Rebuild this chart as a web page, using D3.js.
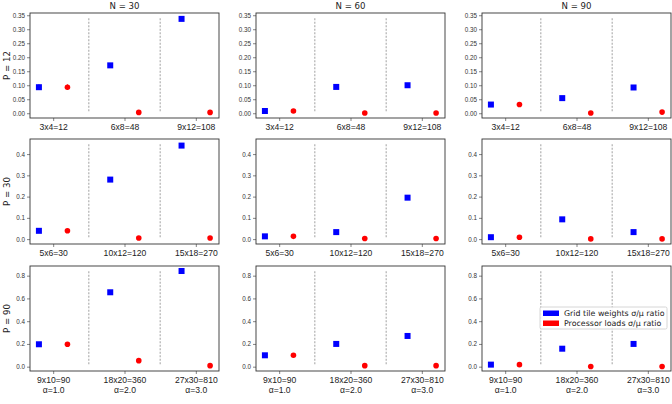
<!DOCTYPE html>
<html>
<head>
<meta charset="utf-8">
<script src="https://cdn.jsdelivr.net/npm/d3@7"></script>
<style>
  body { margin: 0; background: #fff; }
  svg { font-family: "DejaVu Sans", sans-serif; }
</style>
</head>
<body>
<svg id="chart"></svg>
<script>
"use strict";

// column / row headers
var nValues = [30, 60, 90];
var pValues = [12, 30, 90];

// category labels per row (P)
var catLabels = [
  ["3x4=12", "6x8=48", "9x12=108"],
  ["5x6=30", "10x12=120", "15x18=270"],
  ["9x10=90", "18x20=360", "27x30=810"]
];
var alphaLabels = ["\u03b1=1.0", "\u03b1=2.0", "\u03b1=3.0"];

// y tick labels per row
var yTicks = [
  [0, 0.05, 0.1, 0.15, 0.2, 0.25, 0.3, 0.35],
  [0, 0.1, 0.2, 0.3, 0.4],
  [0, 0.2, 0.4, 0.6, 0.8]
];
var yFormats = [".2f", ".1f", ".1f"];

// grid tile weights sigma/mu ratio  [row P][col N][category]
var tileRatio = [
  [[0.093, 0.171, 0.337], [0.008, 0.094, 0.100], [0.031, 0.054, 0.092]],
  [[0.039, 0.280, 0.440], [0.013, 0.033, 0.195], [0.009, 0.093, 0.033]],
  [[0.197, 0.654, 0.841], [0.100, 0.200, 0.270], [0.018, 0.158, 0.200]]
];
// processor loads sigma/mu ratio
var loadRatio = [
  [[0.093, 0.003, 0.003], [0.008, 0.001, 0.001], [0.031, 0.001, 0.004]],
  [[0.039, 0.005, 0.005], [0.013, 0.003, 0.003], [0.009, 0.001, 0.001]],
  [[0.197, 0.053, 0.009], [0.100, 0.009, 0.009], [0.018, 0.001, 0.001]]
];
// small spread shown as error bars
var tileErr = [
  [[0.010, 0, 0], [0, 0, 0], [0, 0, 0]],
  [[0, 0, 0], [0, 0, 0], [0, 0, 0]],
  [[0, 0, 0], [0, 0, 0], [0, 0, 0]]
];
var loadErr = [
  [[0.010, 0, 0], [0, 0, 0], [0, 0, 0]],
  [[0, 0, 0], [0, 0, 0], [0, 0, 0]],
  [[0, 0, 0], [0, 0, 0], [0, 0, 0]]
];

var legendLabels = ["Grid tile weights \u03c3/\u03bc ratio", "Processor loads \u03c3/\u03bc ratio"];
var blue = "#0000ff", red = "#ff0000";

var width = 672, height = 404;
var svg = d3.select("#chart").attr("width", width).attr("height", height);

var colLeft = [30, 256, 482];
var rowTop = [13, 139, 266];
var plotW = 189, plotH = 105;
var yDomains = [[-0.017, 0.358], [-0.023, 0.471], [-0.038, 0.885]];

var x = d3.scaleLinear().domain([-0.325, 2.325]).range([0, plotW]);
var offset = 0.2;

pValues.forEach(function (p, r) {
  var y = d3.scaleLinear().domain(yDomains[r]).range([plotH, 0]);
  nValues.forEach(function (n, c) {
    var g = svg.append("g")
      .attr("transform", "translate(" + colLeft[c] + "," + rowTop[r] + ")");

    // dividers between categories
    [0.5, 1.5].forEach(function (d) {
      g.append("line")
        .attr("x1", x(d)).attr("x2", x(d))
        .attr("y1", plotH * 0.05).attr("y2", plotH * 0.95)
        .attr("stroke", "#888").attr("stroke-width", 0.8)
        .attr("stroke-dasharray", "2,1.5");
    });

    // y axis
    var yAxis = d3.axisLeft(y).tickValues(yTicks[r])
      .tickFormat(d3.format(yFormats[r])).tickSize(3).tickPadding(2);
    var ya = g.append("g").call(yAxis);
    ya.select(".domain").remove();
    ya.selectAll("text").attr("font-size", 6.3).attr("fill", "#333");
    ya.selectAll("line").attr("stroke", "#333").attr("stroke-width", 0.6);

    // x axis
    var xAxis = d3.axisBottom(x).tickValues([0, 1, 2])
      .tickFormat(function (d, i) { return catLabels[r][i]; })
      .tickSize(3).tickPadding(3);
    var xa = g.append("g").attr("transform", "translate(0," + plotH + ")").call(xAxis);
    xa.select(".domain").remove();
    xa.selectAll("line").attr("stroke", "#333").attr("stroke-width", 0.6);
    xa.selectAll("text").attr("font-size", 8.6).attr("fill", "#222");
    if (r === 2) {
      xa.selectAll(".tick").append("text")
        .attr("y", 16).attr("dy", "0.71em")
        .attr("text-anchor", "middle")
        .attr("font-size", 8.6).attr("fill", "#222")
        .text(function (d, i) { return alphaLabels[i]; });
    }

    // error bars
    [[tileRatio, tileErr, -offset, blue], [loadRatio, loadErr, offset, red]].forEach(function (s) {
      g.append("g").selectAll("line").data(d3.range(3).filter(function (i) { return s[1][r][c][i] > 0; }))
        .enter().append("line")
        .attr("x1", function (i) { return x(i + s[2]); })
        .attr("x2", function (i) { return x(i + s[2]); })
        .attr("y1", function (i) { return y(s[0][r][c][i] - s[1][r][c][i]); })
        .attr("y2", function (i) { return y(s[0][r][c][i] + s[1][r][c][i]); })
        .attr("stroke", s[3]).attr("stroke-width", 1);
    });

    // blue squares
    g.append("g").selectAll("rect").data(tileRatio[r][c]).enter().append("rect")
      .attr("x", function (d, i) { return x(i - offset) - 3; })
      .attr("y", function (d) { return y(d) - 3; })
      .attr("width", 6).attr("height", 6)
      .attr("fill", blue);

    // red circles
    g.append("g").selectAll("circle").data(loadRatio[r][c]).enter().append("circle")
      .attr("cx", function (d, i) { return x(i + offset); })
      .attr("cy", function (d) { return y(d); })
      .attr("r", 2.8)
      .attr("fill", red);

    // frame
    g.append("rect").attr("width", plotW).attr("height", plotH)
      .attr("fill", "none").attr("stroke", "#333").attr("stroke-width", 0.9);

    if (r === 0) {
      g.append("text").attr("x", plotW / 2).attr("y", -4)
        .attr("text-anchor", "middle").attr("font-size", 8.6).attr("fill", "#222")
        .text("N = " + n);
    }
    if (c === 0) {
      g.append("text")
        .attr("transform", "translate(-20," + (plotH / 2) + ") rotate(-90)")
        .attr("text-anchor", "middle").attr("font-size", 8.6).attr("fill", "#222")
        .text("P = " + p);
    }

    // legend in the last panel
    if (r === 2 && c === 2) {
      var lg = g.append("g").attr("transform", "translate(" + (540 - colLeft[c]) + "," + (307 - rowTop[r]) + ")");
      lg.append("rect").attr("width", 127).attr("height", 22).attr("rx", 1.5)
        .attr("fill", "rgba(255,255,255,0.8)").attr("stroke", "#ccc").attr("stroke-width", 0.8);
      [blue, red].forEach(function (col, i) {
        lg.append("rect").attr("x", 3).attr("y", 3.5 + i * 10).attr("width", 16).attr("height", 5.5)
          .attr("fill", col);
        lg.append("text").attr("x", 24).attr("y", 6.2 + i * 10).attr("dy", "0.35em")
          .attr("font-size", 7.9).attr("fill", "#222").text(legendLabels[i]);
      });
    }
  });
});
</script>
</body>
</html>
